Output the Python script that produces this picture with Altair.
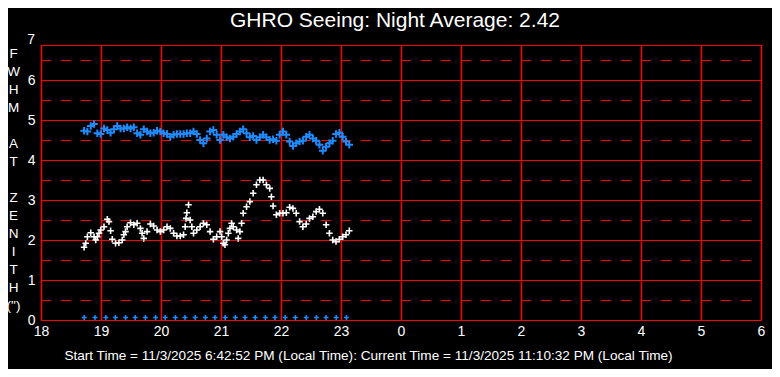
import altair as alt
import pandas as pd

# ---------------- data ----------------
blue_hours = [18.718, 18.773, 18.829, 18.884, 18.939, 18.994, 19.050, 19.105, 19.160, 19.215,
              19.271, 19.326, 19.381, 19.436, 19.492, 19.547, 19.602, 19.657, 19.713, 19.768,
              19.823, 19.878, 19.934, 19.989, 20.044, 20.100, 20.155, 20.210, 20.265, 20.321,
              20.376, 20.431, 20.486, 20.542, 20.597, 20.652, 20.707, 20.763, 20.818, 20.873,
              20.928, 20.984, 21.039, 21.094, 21.149, 21.205, 21.260, 21.315, 21.370, 21.426,
              21.481, 21.536, 21.591, 21.647, 21.702, 21.757, 21.812, 21.868, 21.923, 21.978,
              22.033, 22.089, 22.144, 22.199, 22.254, 22.310, 22.365, 22.420, 22.475, 22.531,
              22.586, 22.641, 22.696, 22.752, 22.807, 22.862, 22.917, 22.973, 23.028, 23.083,
              23.138]
blue_fwhm = [4.73, 4.71, 4.85, 4.90, 4.67, 4.65, 4.79, 4.75, 4.68, 4.77,
             4.85, 4.79, 4.79, 4.82, 4.79, 4.82, 4.67, 4.63, 4.77, 4.71,
             4.67, 4.68, 4.73, 4.71, 4.67, 4.65, 4.58, 4.63, 4.65, 4.65,
             4.65, 4.67, 4.67, 4.71, 4.65, 4.50, 4.42, 4.54, 4.71, 4.75,
             4.63, 4.50, 4.63, 4.57, 4.54, 4.58, 4.65, 4.71, 4.77, 4.67,
             4.57, 4.60, 4.50, 4.57, 4.63, 4.57, 4.50, 4.52, 4.48, 4.63,
             4.71, 4.63, 4.46, 4.35, 4.42, 4.46, 4.48, 4.58, 4.63, 4.54,
             4.48, 4.38, 4.23, 4.33, 4.42, 4.48, 4.65, 4.68, 4.58, 4.46,
             4.38]

white_hours = [18.718, 18.746, 18.773, 18.829, 18.884, 18.912, 18.939, 18.967, 18.994, 19.050,
               19.105, 19.133, 19.160, 19.188, 19.243, 19.298, 19.354, 19.381, 19.409, 19.436,
               19.492, 19.547, 19.602, 19.657, 19.685, 19.713, 19.768, 19.823, 19.878, 19.934,
               19.989, 20.044, 20.100, 20.155, 20.210, 20.265, 20.321, 20.376, 20.403, 20.418,
               20.431, 20.459, 20.486, 20.514, 20.542, 20.597, 20.652, 20.707, 20.763, 20.818,
               20.873, 20.928, 20.984, 21.011, 21.039, 21.066, 21.094, 21.122, 21.149, 21.177,
               21.205, 21.260, 21.287, 21.315, 21.343, 21.370, 21.426, 21.481, 21.536, 21.591,
               21.647, 21.702, 21.757, 21.812, 21.840, 21.868, 21.923, 21.978, 22.033, 22.089,
               22.144, 22.199, 22.254, 22.310, 22.365, 22.420, 22.475, 22.531, 22.586, 22.641,
               22.696, 22.752, 22.807, 22.862, 22.917, 22.973, 23.028, 23.083, 23.138]
white_fwhm = [1.82, 1.92, 2.08, 2.18, 2.08, 2.00, 2.08, 2.17, 2.25, 2.33,
              2.52, 2.46, 2.23, 2.02, 1.92, 1.93, 2.00, 2.13, 2.21, 2.33,
              2.43, 2.38, 2.42, 2.29, 2.17, 2.04, 2.21, 2.40, 2.35, 2.25,
              2.21, 2.25, 2.33, 2.29, 2.17, 2.10, 2.10, 2.13, 2.33, 2.54,
              2.68, 2.88, 2.50, 2.33, 2.17, 2.25, 2.33, 2.42, 2.38, 2.21,
              2.02, 2.08, 2.21, 2.08, 1.92, 1.88, 2.00, 2.17, 2.29, 2.42,
              2.33, 2.25, 2.04, 2.21, 2.42, 2.67, 2.83, 2.96, 3.17, 3.38,
              3.50, 3.50, 3.38, 3.29, 3.08, 2.85, 2.63, 2.67, 2.67, 2.68,
              2.82, 2.79, 2.67, 2.46, 2.33, 2.40, 2.54, 2.58, 2.71, 2.77,
              2.67, 2.38, 2.17, 2.00, 1.96, 2.02, 2.08, 2.13, 2.23]

marker_hours = [18.72, 18.90, 19.08, 19.24, 19.41, 19.57, 19.74, 19.91, 20.07, 20.24,
                20.40, 20.57, 20.74, 20.90, 21.07, 21.24, 21.40, 21.57, 21.74, 21.90,
                22.07, 22.24, 22.42, 22.59, 22.75, 22.92, 23.09]
marker_level = [0.06] * len(marker_hours)

hour_ticks = list(range(18, 31))
fwhm_ticks = [0, 1, 2, 3, 4, 5, 6]
top_label = [7]
half_lines = [0.5, 1.5, 2.5, 3.5, 4.5, 5.5, 6.5]

title_text = "GHRO Seeing: Night Average: 2.42"
bottom_text = ("Start Time = 11/3/2025 6:42:52 PM (Local Time): "
               "Current Time = 11/3/2025 11:10:32 PM (Local Time)")
GAP = "\u2800"
y_title_lines = ["F", "W", "H", "M", GAP, "A", "T", GAP, "Z", "E", "N", "I", "T", "H", "(\")"]

# ---------------- styling ----------------
RED = "#ff0000"
BLUE = "#1e8cff"
FONT = "Liberation Sans"
PLUS = "M-1,0L1,0M0,-1L0,1"

blue_df = pd.DataFrame({"h": blue_hours, "v": blue_fwhm})
white_df = pd.DataFrame({"h": white_hours, "v": white_fwhm})
marker_df = pd.DataFrame({"h": marker_hours, "v": marker_level})
half_df = pd.DataFrame({"v": half_lines})
hour_df = pd.DataFrame({"h": hour_ticks})
top_df = pd.DataFrame({"v": top_label, "t": [str(t) for t in top_label]})
title_df = pd.DataFrame({"t": [title_text]})

xscale = alt.Scale(domain=[18, 30], nice=False, zero=False)
yscale = alt.Scale(domain=[0, 6.875], nice=False, zero=False)

x_axis = alt.Axis(
    values=hour_ticks, labelExpr="'' + (datum.value % 24)",
    grid=False, ticks=False, domain=False, labelFlush=False, labelOverlap=False,
    labelColor="white", labelFont=FONT, labelFontSize=14, labelPadding=4,
    title=bottom_text, titleColor="white", titleFont=FONT, titleFontSize=13.6,
    titleFontWeight="normal", titleX=327, titleY=35, titleAlign="center",
    titleBaseline="middle",
)
y_axis = alt.Axis(
    values=fwhm_ticks, grid=True, gridColor=RED, gridOpacity=1, gridWidth=1,
    ticks=False, domain=False, labelColor="white", labelFont=FONT,
    labelFontSize=14, labelPadding=6,
    title=y_title_lines, titleAngle=0, titleX=-28, titleY=8,
    titleAlign="center", titleBaseline="middle", titleLineHeight=18,
    titleFont=FONT, titleFontSize=13.5, titleFontWeight="normal", titleColor="white",
)

X = alt.X("h:Q", scale=xscale, axis=x_axis)
Y = alt.Y("v:Q", scale=yscale, axis=y_axis)

vlines = alt.Chart(hour_df).mark_rule(
    color=RED, strokeWidth=1.5, xOffset=0.5
).encode(x=X)

halfs = alt.Chart(half_df).mark_rule(
    color=RED, strokeWidth=1, strokeDash=[10, 10], strokeDashOffset=10, yOffset=0.5
).encode(y=Y)

white = alt.Chart(white_df).mark_point(
    shape=PLUS, filled=False, color="white", strokeWidth=1.6, size=42, opacity=1
).encode(x=X, y=Y)

blue = alt.Chart(blue_df).mark_point(
    shape=PLUS, filled=False, color=BLUE, strokeWidth=2, size=56, opacity=1
).encode(x=X, y=Y)

markers = alt.Chart(marker_df).mark_point(
    shape=PLUS, filled=False, color=BLUE, strokeWidth=1.5, size=25, opacity=1
).encode(x=X, y=Y)

top_text = alt.Chart(top_df).mark_text(
    color="white", font=FONT, fontSize=14, align="right", baseline="middle", dx=-6
).encode(x=alt.value(0), y=Y, text="t:N")

title_mark = alt.Chart(title_df).mark_text(
    color="white", font=FONT, fontSize=21, align="center", baseline="alphabetic"
).encode(x=alt.value(354), y=alt.value(-18), text="t:N")

chart = alt.layer(vlines, halfs, white, blue, markers, top_text, title_mark).properties(
    width=720,
    height=275,
    background="black",
    autosize=alt.AutoSizeParams(type="none"),
    padding={"left": 33, "top": 37, "right": 11, "bottom": 49},
).configure_view(stroke=RED, strokeWidth=1)

chart.save("out.html", embed_options={"renderer": "svg", "actions": False})
